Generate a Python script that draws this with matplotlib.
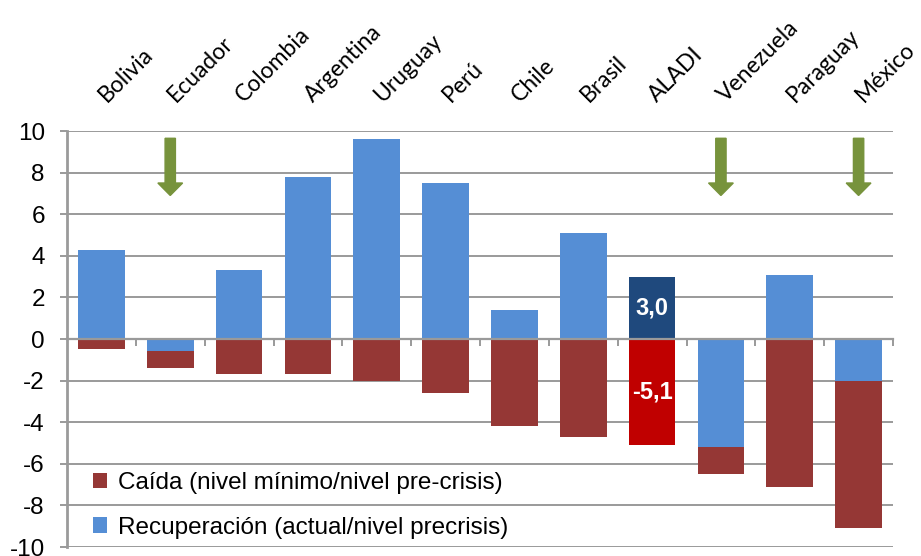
import numpy as np
import matplotlib.pyplot as plt
import matplotlib.transforms as mtransforms
from matplotlib.ticker import FixedLocator

plt.rcParams['axes.unicode_minus'] = False

# categories and values (stacked segments as drawn in the chart)
paises = ['Bolivia', 'Ecuador', 'Colombia', 'Argentina', 'Uruguay', 'Perú',
          'Chile', 'Brasil', 'ALADI', 'Venezuela', 'Paraguay', 'México']
recuperacion = [4.3, -0.6, 3.3, 7.8, 9.6, 7.5, 1.4, 5.1, 3.0, -5.2, 3.1, -2.0]
caida = [-0.5, -0.8, -1.7, -1.7, -2.0, -2.6, -4.2, -4.7, -5.1, -1.3, -7.1, -7.1]
flechas = ['Ecuador', 'Venezuela', 'México']

col_caida = '#953735'
col_recup = '#558ED5'
col_caida_aladi = '#C00000'
col_recup_aladi = '#1F497D'
col_flecha = '#77933C'
col_grid = '#9A9A9A'

x = np.arange(len(paises))
rec = np.array(recuperacion)
cai = np.array(caida)
base_caida = np.minimum(rec, 0)

fig = plt.figure(figsize=(9.21, 5.56), dpi=100)
ax = fig.add_axes([67 / 921, 9 / 556, 826 / 921, 416 / 556])

c_rec = [col_recup_aladi if p == 'ALADI' else col_recup for p in paises]
c_cai = [col_caida_aladi if p == 'ALADI' else col_caida for p in paises]
ax.bar(x, cai, bottom=base_caida, width=0.68, color=c_cai, zorder=2,
       label='Caída (nivel mínimo/nivel pre-crisis)')
ax.bar(x, rec, width=0.68, color=c_rec, zorder=2,
       label='Recuperación (actual/nivel precrisis)')

# data labels for ALADI
i = paises.index('ALADI')
for val, y in [(rec[i], rec[i] / 2), (cai[i], cai[i] / 2)]:
    ax.text(x[i], y, f'{val:.1f}'.replace('.', ','), color='white',
            fontsize=17, fontweight='bold', ha='center', va='center',
            family='Liberation Sans', zorder=4)

# green arrows
for p in flechas:
    j = paises.index(p)
    ax.arrow(x[j], 9.65, 0, -2.75, width=0.15, head_width=0.36,
             head_length=0.6, length_includes_head=True,
             color=col_flecha, zorder=3)

ax.set_xlim(-0.5, len(paises) - 0.5)
ax.set_ylim(-10, 10)
ax.set_yticks(np.arange(-10, 11, 2))
ax.yaxis.grid(True, color=col_grid, linewidth=1.4, zorder=0)
ax.set_axisbelow(True)

for s in ['top', 'right']:
    ax.spines[s].set_visible(False)
ax.spines['bottom'].set_position(('data', 0))
ax.spines['bottom'].set_color(col_grid)
ax.spines['bottom'].set_linewidth(1.6)
ax.spines['bottom'].set_zorder(3)
ax.spines['left'].set_color(col_grid)
ax.spines['left'].set_linewidth(2)

ax.tick_params(axis='y', length=5, width=1.4, color=col_grid, pad=11,
               labelsize=17.5)
for t in ax.get_yticklabels():
    t.set_family('Liberation Sans')

ax.set_xticks(x)
ax.set_xticklabels(paises, rotation=45, ha='left', rotation_mode='anchor',
                   fontsize=16.5, family='Lato')
ax.tick_params(axis='x', which='major', length=0, labeltop=True,
               labelbottom=False, pad=18)
offset = mtransforms.ScaledTranslation(0.08, 0, fig.dpi_scale_trans)
for t in ax.get_xticklabels():
    t.set_transform(t.get_transform() + offset)
ax.xaxis.set_minor_locator(FixedLocator(np.arange(0.5, len(paises), 1)))
ax.tick_params(axis='x', which='minor', direction='out', length=5, width=1.4,
               color=col_grid, bottom=True)

ax.legend(loc='lower left', bbox_to_anchor=(0.015, -0.012), frameon=False,
          prop={'family': 'Liberation Sans', 'size': 17.5},
          handlelength=0.6, handleheight=0.6, handletextpad=0.45,
          labelspacing=0.92, borderaxespad=0.15)

fig.savefig('out.png', dpi=100)
